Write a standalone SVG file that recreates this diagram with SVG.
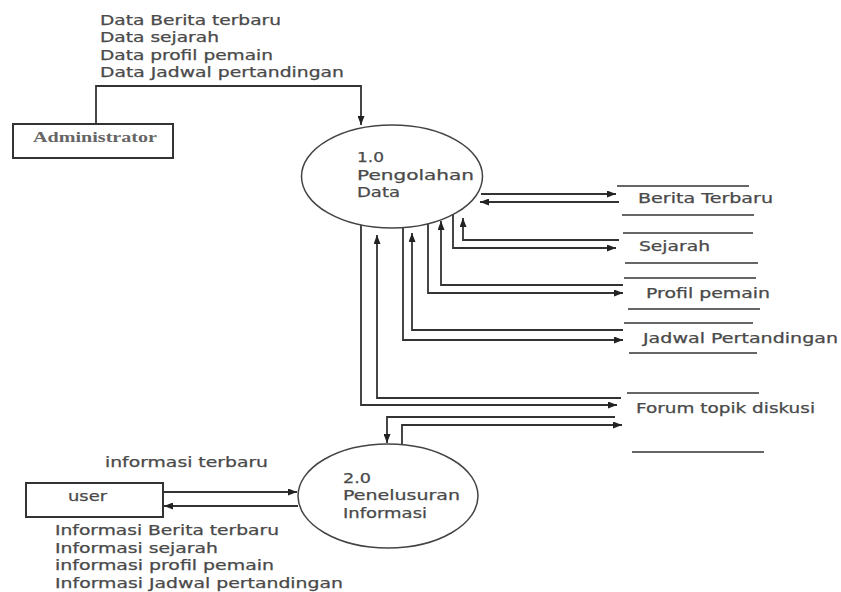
<svg xmlns="http://www.w3.org/2000/svg" width="841" height="592" viewBox="0 0 841 592">
<defs>
<marker id="ah" markerUnits="userSpaceOnUse" markerWidth="9" markerHeight="7" refX="9" refY="3.5" orient="auto">
<path d="M0,0 L9,3.5 L0,7 z" fill="#222"/>
</marker>
<style>
.t{font-family:"DejaVu Sans","Liberation Sans",sans-serif;font-size:13.5px;fill:#4a4a4a;stroke:#4a4a4a;stroke-width:0.25px;}
.s{font-family:"Liberation Serif",serif;font-size:15px;font-weight:bold;fill:#666;}
.c{fill:none;stroke:#333;stroke-width:1.8;}
.a{marker-end:url(#ah);}
.b{fill:#fff;stroke:#333;stroke-width:2;}
.e{fill:#fff;stroke:#444;stroke-width:1.5;}
.st{stroke:#333;stroke-width:1.6;}
</style>
</defs>
<rect width="841" height="592" fill="#fff"/>

<g id="connectors">
<path class="c a" d="M96,124 V86 H361 V125"/>
<path class="c a" d="M481,194 H616"/>
<path class="c a" d="M619,202 H480"/>
<path class="c a" d="M619,240 H463 V218"/>
<path class="c a" d="M453,214 V248 H616"/>
<path class="c a" d="M623,285 H441 V221"/>
<path class="c a" d="M428,224 V293 H623"/>
<path class="c a" d="M623,330 H412 V233"/>
<path class="c a" d="M403,228 V340 H623"/>
<path class="c a" d="M621,398 H377 V235"/>
<path class="c a" d="M361,225 V405 H617"/>
<path class="c a" d="M615,417 H387 V443"/>
<path class="c a" d="M402,445 V425 H622"/>
<path class="c a" d="M163,492 H297"/>
<path class="c a" d="M298,506 H164"/>
</g>

<g id="labels">
<text class="t" x="100" y="25" textLength="181" lengthAdjust="spacingAndGlyphs">Data Berita terbaru</text>
<text class="t" x="100" y="42" textLength="119" lengthAdjust="spacingAndGlyphs">Data sejarah</text>
<text class="t" x="100" y="59.5" textLength="173" lengthAdjust="spacingAndGlyphs">Data profil pemain</text>
<text class="t" x="100" y="77.3" textLength="244" lengthAdjust="spacingAndGlyphs">Data Jadwal pertandingan</text>
<text class="t" x="105" y="466.5" textLength="163" lengthAdjust="spacingAndGlyphs">informasi terbaru</text>
<text class="t" x="55" y="535" textLength="224" lengthAdjust="spacingAndGlyphs">Informasi Berita terbaru</text>
<text class="t" x="55" y="552.5" textLength="163" lengthAdjust="spacingAndGlyphs">Informasi sejarah</text>
<text class="t" x="55" y="570" textLength="219" lengthAdjust="spacingAndGlyphs">informasi profil pemain</text>
<text class="t" x="55" y="587.5" textLength="288" lengthAdjust="spacingAndGlyphs">Informasi Jadwal pertandingan</text>
</g>

<g id="administrator">
<rect class="b" x="13" y="124" width="160" height="34"/>
<text class="s" x="33" y="142" textLength="124" lengthAdjust="spacingAndGlyphs">Administrator</text>
</g>

<g id="user">
<rect class="b" x="26" y="483" width="137" height="34"/>
<text class="t" x="68" y="500.5" textLength="39" lengthAdjust="spacingAndGlyphs">user</text>
</g>

<g id="p1">
<ellipse class="e" cx="392" cy="176.5" rx="90.5" ry="51.5"/>
<text class="t" x="357" y="161.7" textLength="27" lengthAdjust="spacingAndGlyphs">1.0</text>
<text class="t" x="357" y="180" textLength="117" lengthAdjust="spacingAndGlyphs">Pengolahan</text>
<text class="t" x="357" y="196.7" textLength="43" lengthAdjust="spacingAndGlyphs">Data</text>
</g>

<g id="p2">
<ellipse class="e" cx="388" cy="496" rx="90" ry="52"/>
<text class="t" x="343" y="483.3" textLength="28" lengthAdjust="spacingAndGlyphs">2.0</text>
<text class="t" x="343" y="500" textLength="117" lengthAdjust="spacingAndGlyphs">Penelusuran</text>
<text class="t" x="343" y="518" textLength="84" lengthAdjust="spacingAndGlyphs">Informasi</text>
</g>

<g id="ds-berita">
<line class="st" x1="617" y1="186" x2="749" y2="186"/>
<line class="st" x1="622" y1="215" x2="754" y2="215"/>
<text class="t" x="638" y="203" textLength="135" lengthAdjust="spacingAndGlyphs">Berita Terbaru</text>
</g>

<g id="ds-sejarah">
<line class="st" x1="623" y1="233" x2="753" y2="233"/>
<line class="st" x1="625" y1="263" x2="758" y2="263"/>
<text class="t" x="639" y="250.5" textLength="71" lengthAdjust="spacingAndGlyphs">Sejarah</text>
</g>

<g id="ds-profil">
<line class="st" x1="624" y1="278" x2="756" y2="278"/>
<line class="st" x1="628" y1="309" x2="760" y2="309"/>
<text class="t" x="646" y="298" textLength="124" lengthAdjust="spacingAndGlyphs">Profil pemain</text>
</g>

<g id="ds-jadwal">
<line class="st" x1="624" y1="323" x2="753" y2="323"/>
<line class="st" x1="629" y1="353" x2="757" y2="353"/>
<text class="t" x="643" y="342.5" textLength="195" lengthAdjust="spacingAndGlyphs">Jadwal Pertandingan</text>
</g>

<g id="ds-forum">
<line class="st" x1="627" y1="393" x2="759" y2="393"/>
<line class="st" x1="632" y1="452" x2="764" y2="452"/>
<text class="t" x="636" y="412.5" textLength="179" lengthAdjust="spacingAndGlyphs">Forum topik diskusi</text>
</g>
</svg>
